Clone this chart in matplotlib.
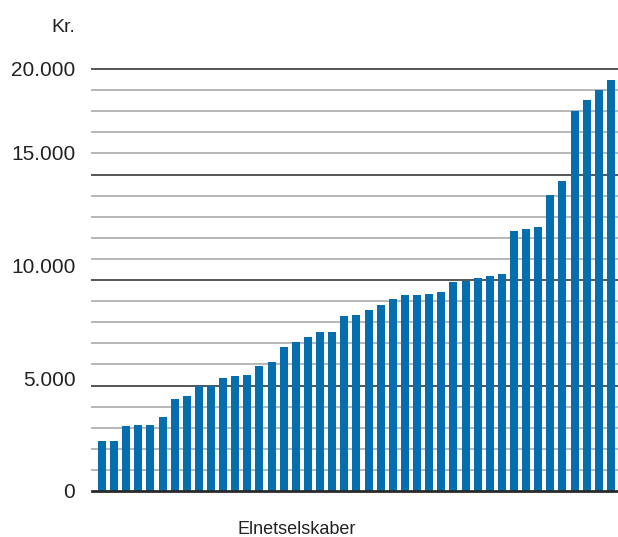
import matplotlib
matplotlib.use("Agg")
import matplotlib.pyplot as plt
import numpy as np

# Network charge per grid company (kr.), sorted ascending
companies = [f"Selskab {i + 1}" for i in range(43)]
values = [
    2370, 2370, 3080, 3130, 3130, 3500, 4360, 4500, 4980, 4980,
    5360, 5450, 5500, 5920, 6110, 6820, 7060, 7300, 7540, 7540,
    8290, 8340, 8580, 8820, 9100, 9290, 9290, 9340, 9430, 9900,
    9950, 10090, 10190, 10280, 12320, 12420, 12510, 14030, 14690, 18010,
    18530, 19000, 19480,
]

minor_grid = [v for v in range(1000, 20001, 1000) if v % 5000]
major_grid = [5000, 10000, 15000, 20000]
tick_labels = ["0", "5.000", "10.000", "15.000", "20.000"]
# the labels in the original sit a little off their gridlines
tick_label_pos = [0, 5350, 10700, 16050, 20000]

BAR = "#056EAE"
TEXT = "#222222"

plt.rcParams["font.family"] = ["Liberation Sans", "DejaVu Sans"]

W, H = 618, 537
fig = plt.figure(figsize=(W / 100, H / 100), dpi=100)
ax = fig.add_axes([92 / W, (H - 491) / H, (W - 92) / W, (491 - 69) / H])

for y in minor_grid:
    ax.axhline(y, color="#b8b8b8", lw=1.4, zorder=1, clip_on=False)
for y in major_grid:
    ax.axhline(y, color="#555555", lw=1.4, zorder=1, clip_on=False)
ax.axhline(0, color="#2a2a2a", lw=2.0, zorder=3, clip_on=False)

x = np.arange(len(values))
ax.bar(x, values, width=0.66, color=BAR, zorder=2)

ax.set_xlim(-0.82, len(values) - 1 + 0.58)
ax.set_ylim(0, 20000)
ax.set_xticks([])
ax.set_yticks(tick_label_pos, tick_labels)
ax.tick_params(axis="y", length=0, pad=12, labelsize=15, labelcolor=TEXT)
for s in ax.spines.values():
    s.set_visible(False)

fig.text(75 / W, 1 - 28 / H, "Kr.", ha="right", va="center", fontsize=14, color=TEXT)
fig.text(297 / W, 1 - 529 / H, "Elnetselskaber", ha="center", va="center",
         fontsize=13, color=TEXT)

fig.savefig("out.png", dpi=100)
